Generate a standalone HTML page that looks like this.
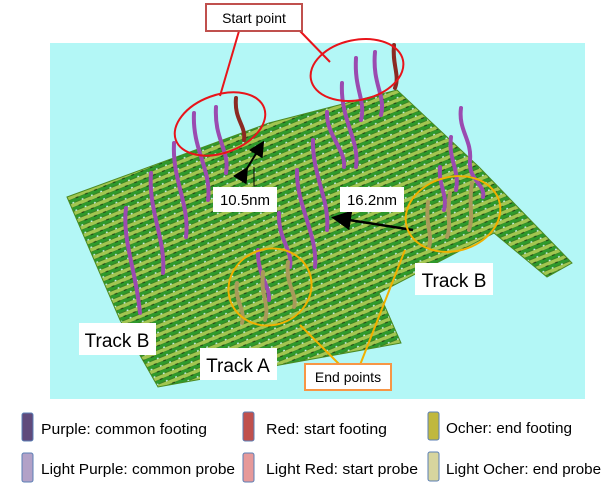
<!DOCTYPE html>
<html><head><meta charset="utf-8"><style>
html,body{margin:0;padding:0;background:#fff;width:608px;height:493px;overflow:hidden}
svg{display:block}
text{font-family:"Liberation Sans",sans-serif}
</style></head><body>
<svg width="608" height="493" viewBox="0 0 608 493" xmlns="http://www.w3.org/2000/svg">
<defs>
<pattern id="mesh" width="10" height="8" patternUnits="userSpaceOnUse" patternTransform="rotate(-22)">
<rect width="10" height="8" fill="#3a8224"/>
<rect y="0" width="10" height="3.5" fill="#a2c650"/>
<rect y="4" width="10" height="3" fill="#2e9a2c"/>
<circle cx="2" cy="7.6" r="1" fill="#c8f0f0"/>
<rect x="6" y="3.3" width="3" height="1" fill="#1a3a10"/>
</pattern>
<marker id="ah" markerWidth="8" markerHeight="8" refX="6" refY="4" orient="auto"><path d="M0,0 L8,4 L0,8 Z" fill="#000"/></marker>
</defs>
<rect x="50" y="43" width="535" height="356" fill="#b3f7f6"/>
<polygon points="67,197 269,123 397,90 479,167 572,263 547,277 494,233 379,293 401,343 158,387 120,320" fill="url(#mesh)" stroke="#4a8a22" stroke-width="1"/>

<g fill="none" stroke-linecap="round">
<g stroke="#9a4bb0" stroke-width="4">
<path d="M126,208 C122,240 136,270 140,313"/>
<path d="M151,173 C148,210 166,240 163,273"/>
<path d="M174,143 C172,180 190,205 186,237"/>
<path d="M194,113 C192,150 212,170 208,200"/>
<path d="M216,107 C214,140 230,150 226,173"/>
<path d="M297,170 C296,205 318,235 315,267"/>
<path d="M313,140 C312,175 330,200 327,230"/>
<path d="M327,112 C326,135 346,150 344,167"/>
<path d="M342,83 C340,120 360,140 356,167"/>
<path d="M356,58 C354,90 366,100 361,120"/>
<path d="M375,52 C372,85 386,95 381,115"/>
<path d="M279,213 C278,240 293,250 290,267"/>
<path d="M258,250 C257,275 270,285 269,300"/>
<path d="M461,108 C458,130 472,140 470,160 C468,180 486,185 483,197"/>
<path d="M451,137 C448,160 460,170 456,190"/>
<path d="M440,167 C438,185 448,195 444,210"/>
</g>
<g stroke="#8b2a22" stroke-width="4">
<path d="M236,98 C234,120 246,125 244,140"/>
<path d="M394,45 C392,65 400,75 395,88"/>
</g>
<g stroke="#a89a5a" stroke-width="4">
<path d="M237,283 C234,300 246,310 242,323"/>
<path d="M263,272 C260,295 270,305 265,320"/>
<path d="M288,262 C285,285 298,295 294,307"/>
<path d="M428,202 C425,225 433,235 429,247"/>
<path d="M450,193 C446,215 452,225 447,237"/>
<path d="M472,183 C468,205 474,215 469,230"/>
</g>
</g>

<line x1="246" y1="170" x2="262" y2="144" stroke="#000" stroke-width="2" marker-end="url(#ah)" marker-start="url(#ah)"/>
<line x1="254" y1="186" x2="254" y2="167" stroke="#000" stroke-width="1"/>
<line x1="413" y1="230" x2="336" y2="218" stroke="#000" stroke-width="2.5" marker-end="url(#ah)"/>

<g fill="none" stroke-width="2">
<ellipse cx="220" cy="124" rx="47" ry="29" transform="rotate(-20 220 124)" stroke="#e8141a"/>
<ellipse cx="357" cy="70" rx="47" ry="30" transform="rotate(-12 357 70)" stroke="#e8141a"/>
<line x1="239" y1="31" x2="220" y2="96" stroke="#e8141a"/>
<line x1="300" y1="31" x2="330" y2="62" stroke="#e8141a"/>
<ellipse cx="270" cy="287" rx="42" ry="38" transform="rotate(-20 270 287)" stroke="#f0b000"/>
<ellipse cx="453" cy="214" rx="48" ry="37" transform="rotate(-15 453 214)" stroke="#f0b000"/>
<line x1="300" y1="325" x2="340" y2="365" stroke="#f0b000"/>
<line x1="405" y1="250" x2="360" y2="365" stroke="#f0b000"/>
</g>
<rect x="206" y="4" width="96" height="27" fill="#fff" stroke="#c0504d" stroke-width="2"/>
<text x="254" y="23" font-size="14" text-anchor="middle" fill="#000">Start point</text>
<rect x="305" y="364" width="86" height="26" fill="#fff" stroke="#f79646" stroke-width="2"/>
<text x="348" y="382" font-size="14" text-anchor="middle">End points</text>

<rect x="213" y="187" width="64" height="25" fill="#fff"/>
<text x="245" y="205" font-size="15" text-anchor="middle">10.5nm</text>
<rect x="340" y="187" width="64" height="25" fill="#fff"/>
<text x="372" y="205" font-size="15" text-anchor="middle">16.2nm</text>
<rect x="415" y="263" width="78" height="32" fill="#fff"/>
<text x="454" y="287" font-size="19" text-anchor="middle">Track B</text>
<rect x="79" y="323" width="77" height="32" fill="#fff"/>
<text x="117" y="347" font-size="19" text-anchor="middle">Track B</text>
<rect x="200" y="348" width="77" height="32" fill="#fff"/>
<text x="238" y="372" font-size="19" text-anchor="middle">Track A</text>

<g stroke="#5b7fb5" stroke-width="1">
<rect x="22" y="413" width="11" height="28" rx="2" fill="#604a7b"/>
<rect x="22" y="453" width="11" height="29" rx="2" fill="#b2a1c7"/>
<rect x="243" y="412" width="11" height="29" rx="2" fill="#c0504d"/>
<rect x="243" y="453" width="11" height="29" rx="2" fill="#e6999a"/>
<rect x="428" y="412" width="11" height="28" rx="2" fill="#c0b83e"/>
<rect x="428" y="452" width="11" height="29" rx="2" fill="#d7d59e"/>
</g>
<g font-size="15" fill="#000">
<text x="41" y="434" textLength="166" lengthAdjust="spacingAndGlyphs">Purple: common footing</text>
<text x="41" y="474" textLength="194" lengthAdjust="spacingAndGlyphs">Light Purple: common probe</text>
<text x="266" y="434" textLength="121" lengthAdjust="spacingAndGlyphs">Red: start footing</text>
<text x="266" y="474" textLength="152" lengthAdjust="spacingAndGlyphs">Light Red: start probe</text>
<text x="446" y="433" textLength="126" lengthAdjust="spacingAndGlyphs">Ocher: end footing</text>
<text x="446" y="474" textLength="155" lengthAdjust="spacingAndGlyphs">Light Ocher: end probe</text>
</g>
</svg>
</body></html>
